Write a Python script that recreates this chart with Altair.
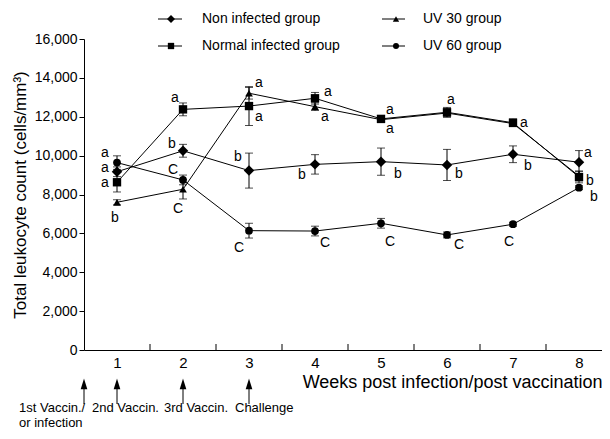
import altair as alt
import pandas as pd

# ---------------- data ----------------
weeks = [1, 2, 3, 4, 5, 6, 7, 8]
groups = ["Non infected group", "Normal infected group", "UV 30 group", "UV 60 group"]

non_infected = [9170, 10250, 9230, 9550, 9690, 9520, 10070, 9660]
normal_infected = [8630, 12380, 12550, 12950, 11890, 12230, 11690, 8900]
uv30 = [7600, 8270, 13210, 12520, 11850, 12190, 11650, 8950]
uv60 = [9640, 8750, 6140, 6120, 6520, 5920, 6470, 8350]

non_infected_se = [250, 330, 900, 500, 700, 800, 430, 600]
normal_infected_se = [500, 330, 1000, 300, 150, 250, 200, 300]
uv30_se = [130, 500, 300, 200, 150, 200, 150, 250]
uv60_se = [350, 250, 380, 250, 250, 150, 100, 100]

non_infected_letters = ["a", "b", "b", "b", "b", "b", "b", "a"]
normal_infected_letters = ["a", "a", "a", "a", "a", "a", "a", ""]
uv30_letters = ["b", "C", "a", "a", "a", "", "", "b"]
uv60_letters = ["a", "C", "C", "C", "C", "C", "C", "b"]

y_ticks = [0, 2000, 4000, 6000, 8000, 10000, 12000, 14000, 16000]
week_bounds = [1.5, 2.5, 3.5, 4.5, 5.5, 6.5, 7.5]

event_weeks = [0.5, 1, 2, 3]
event_labels = ["1st Vaccin./\nor infection", "2nd Vaccin.", "3rd Vaccin.", "Challenge"]

# ---------------- layout / style ----------------
FONT = "Liberation Sans"
W, H = 518, 311
PX_PER_WEEK = 66
X_MIN = 0.5
X_MAX = X_MIN + W / PX_PER_WEEK
Y_MAX = 16000
UNITS_PER_PX = Y_MAX / H

shape_map = {
    "Non infected group": "diamond",
    "Normal infected group": "square",
    "UV 30 group": "triangle-up",
    "UV 60 group": "circle",
}
size_map = {"Non infected group": 110, "Normal infected group": 70,
            "UV 30 group": 60, "UV 60 group": 60}
legend_size_map = {"Non infected group": 64, "Normal infected group": 40,
                   "UV 30 group": 40, "UV 60 group": 36}

# letter offsets in pixels (dx, dy)
letter_offsets = {
    "Non infected group": [(-12, -4), (-11, -7), (-11, -14), (-13, 11), (17, 12), (12, 9), (15, 12), (9, -9)],
    "Normal infected group": [(-12, 1), (-8, -11), (10, 11), (13, -6), (9, -9), (4, -12), (11, 0), (0, 0)],
    "UV 30 group": [(-2, 16), (-5, 20), (10, -10), (10, 10), (9, 9), (0, 0), (0, 0), (11, 5)],
    "UV 60 group": [(-12, -10), (-10, -10), (-10, 17), (10, 12), (9, 19), (12, 10), (-4, 18), (15, 9)],
}
event_text_dx = [-65, -25, -19, -14]

series = {
    "Non infected group": (non_infected, non_infected_se, non_infected_letters),
    "Normal infected group": (normal_infected, normal_infected_se, normal_infected_letters),
    "UV 30 group": (uv30, uv30_se, uv30_letters),
    "UV 60 group": (uv60, uv60_se, uv60_letters),
}

rows = []
for g in groups:
    vals, ses, lets = series[g]
    for w, v, s, l, (dx, dy) in zip(weeks, vals, ses, lets, letter_offsets[g]):
        rows.append(dict(group=g, week=w, value=v, lo=v - s, hi=v + s, letter=l,
                         lx=w + dx / PX_PER_WEEK, ly=v - dy * UNITS_PER_PX,
                         size=size_map[g]))
df = pd.DataFrame(rows)
df_letters = df[df["letter"] != ""]

# legend table (2 columns x 2 rows)
legend_cols = [(74, 98, 87, 118), (298, 321, 312, 339)]
legend_rows = [-20, 7]
legend_order = [(0, 0), (0, 1), (1, 0), (1, 1)]  # (col,row) per group
leg = []
for g, (c, r) in zip(groups, legend_order):
    x1, x2, mx, tx = legend_cols[c]
    leg.append(dict(group=g, x1=x1, x2=x2, mx=mx, tx=tx, ly=legend_rows[r],
                    lsize=legend_size_map[g]))
df_leg = pd.DataFrame(leg)

df_bounds = pd.DataFrame({"b": week_bounds})
df_events = pd.DataFrame({"week": event_weeks, "label": event_labels,
                          "tx": [w + d / PX_PER_WEEK for w, d in zip(event_weeks, event_text_dx)]})

# ---------------- scales / axes ----------------
xscale = alt.Scale(domain=[X_MIN, X_MAX], nice=False, zero=False)
yscale = alt.Scale(domain=[0, Y_MAX], nice=False)
xaxis = alt.Axis(values=weeks, ticks=False, labelFontSize=15, labelPadding=5,
                 title="Weeks post infection/post vaccination", titleAnchor="end",
                 titleFontSize=18, titleFontWeight="normal", titlePadding=3,
                 grid=False, domainColor="black", labelColor="black", titleColor="black",
                 labelFont=FONT, titleFont=FONT)
yaxis = alt.Axis(values=y_ticks, format=",d", tickSize=5, labelPadding=2, labelFontSize=14,
                 title="Total leukocyte count (cells/mm³)", titleFontSize=17,
                 titleFontWeight="normal", titlePadding=5, grid=False,
                 domainColor="black", tickColor="black", labelColor="black", titleColor="black",
                 labelFont=FONT, titleFont=FONT)
XT = "Weeks post infection/post vaccination"
YT = "Total leukocyte count (cells/mm³)"


def X(f):
    return alt.X(f, type="quantitative", scale=xscale, axis=xaxis, title=XT)


def Y(f):
    return alt.Y(f, type="quantitative", scale=yscale, axis=yaxis, title=YT)


shape_enc = alt.Shape("group:N", scale=alt.Scale(domain=groups, range=[shape_map[g] for g in groups]),
                      legend=None)

base = alt.Chart(df)

lines = base.mark_line(color="black", strokeWidth=1).encode(
    x=X("week"), y=Y("value"), detail="group:N")

err = base.mark_rule(color="black", strokeWidth=1).encode(
    x=X("week"), y=Y("lo"), y2="hi")
cap_lo = base.mark_tick(color="black", orient="horizontal", size=8, thickness=1).encode(
    x=X("week"), y=Y("lo"))
cap_hi = base.mark_tick(color="black", orient="horizontal", size=8, thickness=1).encode(
    x=X("week"), y=Y("hi"))

points = base.mark_point(filled=True, color="black", opacity=1).encode(
    x=X("week"), y=Y("value"), shape=shape_enc,
    size=alt.Size("size:Q", scale=None))

letters = alt.Chart(df_letters).mark_text(font=FONT, fontSize=14, color="black",
                                          align="center", baseline="middle").encode(
    x=X("lx"), y=Y("ly"), text="letter:N")

inner_ticks = alt.Chart(df_bounds).mark_rule(color="black", strokeWidth=1).encode(
    x=X("b"), y=alt.value(H), y2=alt.value(H - 6))

arrow_shaft = alt.Chart(df_events).mark_rule(color="black", strokeWidth=1).encode(
    x=X("week"), y=alt.value(H + 34), y2=alt.value(H + 54))
arrow_head = alt.Chart(df_events).mark_point(
    filled=True, color="black", opacity=1, size=220, strokeWidth=0,
    shape="M0,-1L0.45,0.45L-0.45,0.45Z").encode(
    x=X("week"), y=alt.value(H + 36))
event_text = alt.Chart(df_events).mark_text(
    font=FONT, fontSize=13, color="black", align="left", baseline="alphabetic",
    lineBreak="\n", lineHeight=15).encode(
    x=X("tx"), y=alt.value(H + 62), text="label:N")

leg_lines = alt.Chart(df_leg).mark_rule(color="black", strokeWidth=1).encode(
    x=alt.X("x1:Q", scale=None), x2="x2:Q", y=alt.Y("ly:Q", scale=None))
leg_points = alt.Chart(df_leg).mark_point(filled=True, color="black", opacity=1).encode(
    x=alt.X("mx:Q", scale=None), y=alt.Y("ly:Q", scale=None), shape=shape_enc,
    size=alt.Size("lsize:Q", scale=None))
leg_text = alt.Chart(df_leg).mark_text(font=FONT, fontSize=14, color="black",
                                       align="left", baseline="middle").encode(
    x=alt.X("tx:Q", scale=None), y=alt.Y("ly:Q", scale=None), text="group:N")

chart = alt.layer(
    lines, err, cap_lo, cap_hi, points, letters, inner_ticks,
    arrow_shaft, arrow_head, event_text, leg_lines, leg_points, leg_text
).properties(
    width=W, height=H,
    autosize=alt.AutoSizeParams(type="none"),
    padding={"left": 76, "top": 31, "right": 0, "bottom": 81},
    background="white",
).configure_view(stroke=None)

chart.save("out.html", embed_options={"renderer": "svg", "actions": False})
